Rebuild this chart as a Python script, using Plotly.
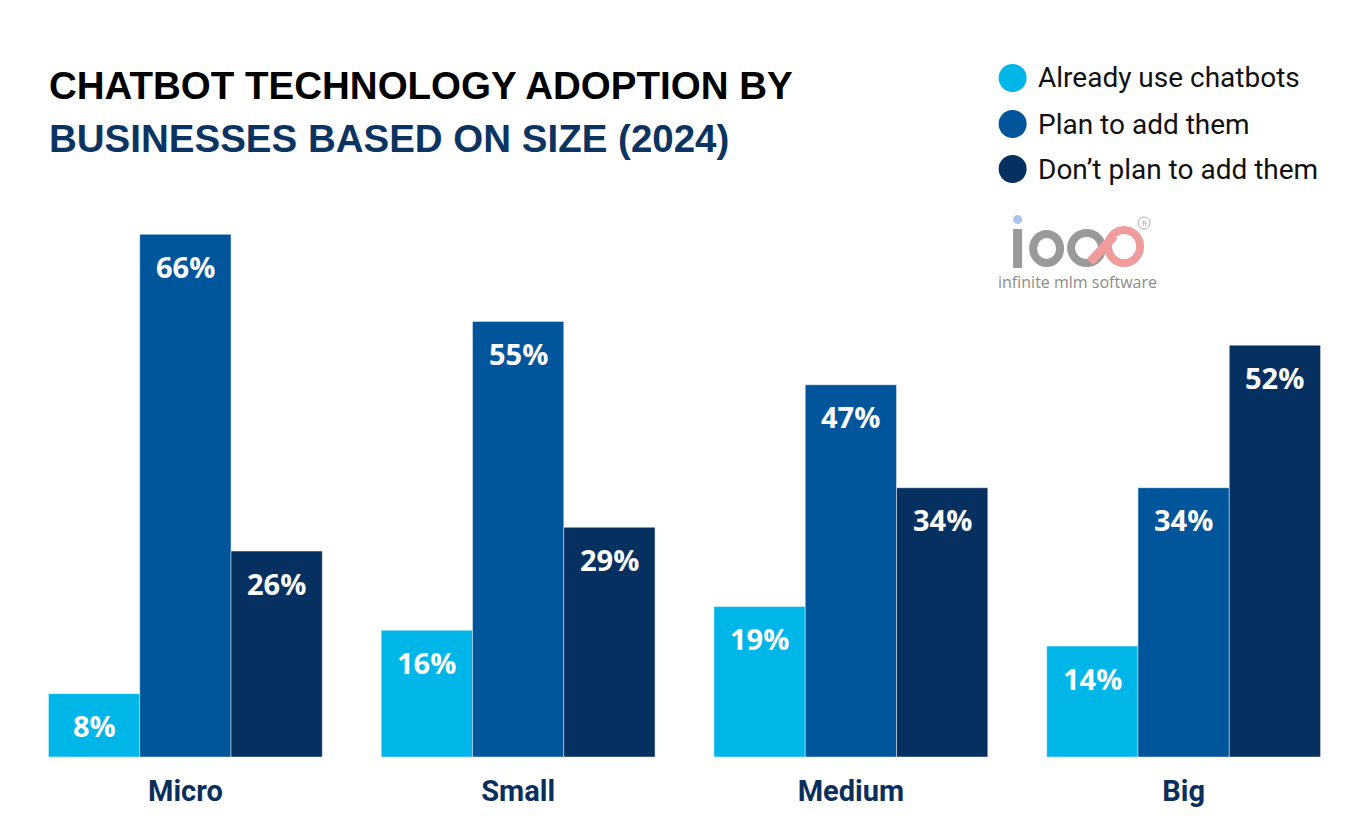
import plotly.graph_objects as go

categories = ["Micro", "Small", "Medium", "Big"]
series_names = ["Already use chatbots", "Plan to add them", "Don\u2019t plan to add them"]
already_use = [8, 16, 19, 14]
plan_to_add = [66, 55, 47, 34]
dont_plan = [26, 29, 34, 52]
series_values = [already_use, plan_to_add, dont_plan]
colors = ["#00B5E8", "#00559B", "#05305F"]

title_line1 = "CHATBOT TECHNOLOGY ADOPTION BY"
title_line2 = "BUSINESSES BASED ON SIZE (2024)"

# page is offset by the 8px body margin
OFF = 8
W_PX, H_PX = 1368, 836
ML, MR, MT, MB = 18.5 - OFF, 18 + OFF, 100 - OFF, 79 + OFF
PW = W_PX - ML - MR
PH = H_PX - MT - MB
Y_MAX = PH / 7.92


def px_x(px):
    return (px - OFF - ML) / PW


def px_y(py):
    return (H_PX - MB - (py - OFF)) / PH


fig = go.Figure()
for name, vals, col in zip(series_names, series_values, colors):
    fig.add_trace(go.Bar(
        x=categories, y=vals, name=name,
        marker=dict(color=col, line=dict(color="rgba(255,255,255,0.45)", width=1)),
        showlegend=False, hoverinfo="x+y",
    ))

annotations = []
bar_w = 333 * (1 - 0.177) / 3
for i, vals in enumerate(series_values):
    for cat, v in zip(categories, vals):
        annotations.append(dict(
            x=cat, y=v, xref="x", yref="y", text=f"<b>{v}%</b>", showarrow=False,
            xshift=(i - 1) * bar_w, yshift=-32, yanchor="middle",
            font=dict(family="Open Sans", size=29, color="white"),
        ))

# Title
annotations.append(dict(x=px_x(47), y=px_y(85), xref="paper", yref="paper",
                        text=f"<b>{title_line1}</b>", showarrow=False,
                        xanchor="left", yanchor="middle",
                        font=dict(family="Liberation Sans", size=38.5, color="#000000")))
annotations.append(dict(x=px_x(47), y=px_y(138), xref="paper", yref="paper",
                        text=f"<b>{title_line2}</b>", showarrow=False,
                        xanchor="left", yanchor="middle",
                        font=dict(family="Liberation Sans", size=38.5, color="#0B3461")))

shapes = []
# Legend
legend_y = [78, 124, 169]
for name, col, ly in zip(series_names, colors, legend_y):
    shapes.append(dict(type="circle", xref="paper", yref="paper",
                       x0=px_x(998.5), x1=px_x(1026.5), y0=px_y(ly + 14), y1=px_y(ly - 14),
                       fillcolor=col, line=dict(width=0)))
    annotations.append(dict(x=px_x(1036), y=px_y(ly), xref="paper", yref="paper",
                            text=name, showarrow=False, xanchor="left", yanchor="middle",
                            font=dict(family="Roboto", size=28, color="#111111")))

# Logo (approximation)
gray = "#9A9A9A"
pink = "#F19C9C"
shapes.append(dict(type="rect", xref="paper", yref="paper",
                   x0=px_x(1013), x1=px_x(1022), y0=px_y(268), y1=px_y(229),
                   fillcolor=gray, line=dict(width=0)))
shapes.append(dict(type="circle", xref="paper", yref="paper",
                   x0=px_x(1013), x1=px_x(1022), y0=px_y(224), y1=px_y(215),
                   fillcolor="#A9C4F0", line=dict(width=0)))
shapes.append(dict(type="circle", xref="paper", yref="paper",
                   x0=px_x(1033), x1=px_x(1060), y0=px_y(263), y1=px_y(234),
                   line=dict(color=gray, width=8)))
shapes.append(dict(type="circle", xref="paper", yref="paper",
                   x0=px_x(1071), x1=px_x(1102), y0=px_y(263), y1=px_y(233),
                   line=dict(color=gray, width=8)))
shapes.append(dict(type="circle", xref="paper", yref="paper",
                   x0=px_x(1108), x1=px_x(1140), y0=px_y(263), y1=px_y(230),
                   line=dict(color=pink, width=8)))
shapes.append(dict(type="line", xref="paper", yref="paper",
                   x0=px_x(1090), x1=px_x(1114), y0=px_y(262), y1=px_y(236),
                   line=dict(color=pink, width=9)))
shapes.append(dict(type="circle", xref="paper", yref="paper",
                   x0=px_x(1138), x1=px_x(1150), y0=px_y(229), y1=px_y(217),
                   line=dict(color="#B0B0B0", width=1)))
annotations.append(dict(x=px_x(1144), y=px_y(223.5), xref="paper", yref="paper",
                        text="R", showarrow=False, xanchor="center", yanchor="middle",
                        font=dict(family="Roboto", size=8, color="#B0B0B0")))
annotations.append(dict(x=px_x(996), y=px_y(282), xref="paper", yref="paper",
                        text="infinite mlm software", showarrow=False,
                        xanchor="left", yanchor="middle",
                        font=dict(family="Open Sans", size=16, color="#8C8C8C")))

fig.update_layout(
    width=W_PX, height=H_PX,
    margin=dict(l=ML, r=MR, t=MT, b=MB, pad=0),
    paper_bgcolor="white", plot_bgcolor="white",
    barmode="group", bargap=0.177, bargroupgap=0,
    xaxis=dict(showgrid=False, zeroline=False, showline=False, ticks="",
               tickfont=dict(family="Roboto", size=29, color="#0A2F5C"),
               ticklabelstandoff=14, range=[-0.5, 3.5]),
    yaxis=dict(range=[0, Y_MAX], visible=False, showgrid=False, zeroline=False),
    annotations=annotations, shapes=shapes,
    font=dict(family="Roboto"),
)
fig.update_xaxes(ticktext=[f"<b>{c}</b>" for c in categories], tickvals=categories)

fig.write_html("out.html")
